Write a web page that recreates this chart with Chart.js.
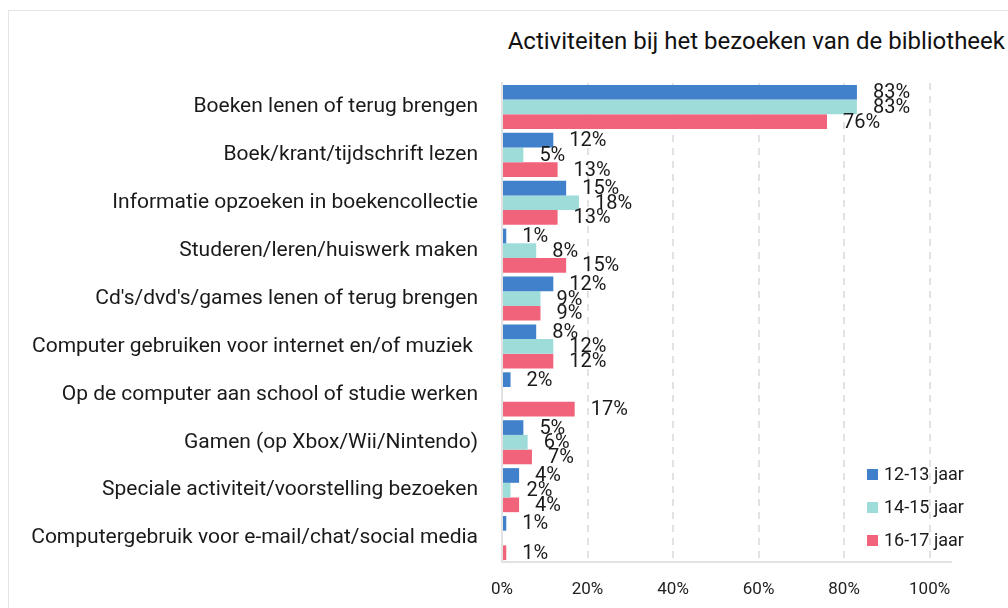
<!DOCTYPE html>
<html>
<head>
<meta charset="utf-8">
<script src="https://cdn.jsdelivr.net/npm/chart.js@4"></script>
<style>
  html, body { margin: 0; padding: 0; background: #fff; }
  #wrap { position: relative; width: 1008px; height: 608px; overflow: hidden; }
  #frame { position: absolute; left: 8px; top: 10px; width: 1100px; height: 700px; border: 1px solid #e4e4e4; box-sizing: border-box; }
  #title { position: absolute; right: 3px; top: 29px; font: 24px/24px Roboto, sans-serif; color: #111; white-space: nowrap; }
  canvas { position: absolute; left: 0; top: 0; }
</style>
</head>
<body>
<div id="wrap">
  <div id="frame"></div>
  <div id="title">Activiteiten bij het bezoeken van de bibliotheek</div>
  <canvas id="chart" width="1008" height="608"></canvas>
</div>
<script>
const categories = [
  'Boeken lenen of terug brengen',
  'Boek/krant/tijdschrift lezen',
  'Informatie opzoeken in boekencollectie',
  'Studeren/leren/huiswerk maken',
  "Cd's/dvd's/games lenen of terug brengen",
  'Computer gebruiken voor internet en/of muziek ',
  'Op de computer aan school of studie werken',
  'Gamen (op Xbox/Wii/Nintendo)',
  'Speciale activiteit/voorstelling bezoeken',
  'Computergebruik voor e-mail/chat/social media'
];
const age12_13 = [83, 12, 15, 1, 12, 8, 2, 5, 4, 1];
const age14_15 = [83, 5, 18, 8, 9, 12, null, 6, 2, null];
const age16_17 = [76, 13, 13, 15, 9, 12, 17, 7, 4, 1];
const xTicks = [0, 20, 40, 60, 80, 100];

const FONT = 'Roboto, sans-serif';

// value labels to the right of each bar
const barLabels = {
    id: 'barLabels',
    afterDatasetsDraw(chart) {
        const ctx = chart.ctx;
        ctx.save();
        ctx.font = '20px ' + FONT;
        ctx.fillStyle = '#1a1a1a';
        ctx.textBaseline = 'middle';
        ctx.textAlign = 'left';
        chart.data.datasets.forEach((ds, i) => {
            chart.getDatasetMeta(i).data.forEach((bar, j) => {
                const v = ds.data[j];
                if (v === null) return;
                ctx.fillText(v + '%', bar.x + 16, bar.y + 1);
            });
        });
        ctx.restore();
    }
};

// legend drawn inside the plot, lower right
const sideLegend = {
    id: 'sideLegend',
    afterDraw(chart) {
        const ctx = chart.ctx;
        ctx.save();
        ctx.font = '18px ' + FONT;
        ctx.textBaseline = 'middle';
        chart.data.datasets.forEach((ds, i) => {
            const y = 475 + i * 33;
            ctx.fillStyle = ds.backgroundColor;
            ctx.fillRect(867, y - 6, 11, 11);
            ctx.fillStyle = '#1a1a1a';
            ctx.fillText(ds.label, 884, y);
        });
        ctx.restore();
    }
};

new Chart(document.getElementById('chart'), {
    type: 'bar',
    data: {
        labels: categories,
        datasets: [
            { label: '12-13 jaar', data: age12_13, backgroundColor: '#4180CA' },
            { label: '14-15 jaar', data: age14_15, backgroundColor: '#9EDCDA' },
            { label: '16-17 jaar', data: age16_17, backgroundColor: '#F0637A' }
        ]
    },
    options: {
        indexAxis: 'y',
        responsive: false,
        animation: false,
        categoryPercentage: 0.92,
        barPercentage: 1.0,
        layout: { padding: { top: 83, right: 57, left: 0, bottom: 0 } },
        plugins: {
            legend: { display: false },
            tooltip: { enabled: false }
        },
        scales: {
            x: {
                min: 0,
                max: 105,
                afterBuildTicks: scale => { scale.ticks = xTicks.map(v => ({ value: v })); },
                afterFit: scale => { scale.height = 46; },
                ticks: {
                    callback: v => v + '%',
                    font: { family: FONT, size: 17 },
                    color: '#222',
                    padding: 18
                },
                grid: { color: '#e2e2e2', lineWidth: 2, drawTicks: false },
                border: { display: true, color: '#e2e2e2', width: 2, dash: [7, 6] }
            },
            y: {
                afterFit: scale => { scale.width = 502; },
                ticks: {
                    font: { family: FONT, size: 21 },
                    color: '#1a1a1a',
                    padding: 24
                },
                grid: { display: false, drawTicks: false },
                border: { display: true, color: '#e2e2e2', width: 2 }
            }
        }
    },
    plugins: [barLabels, sideLegend]
});
</script>
</body>
</html>
